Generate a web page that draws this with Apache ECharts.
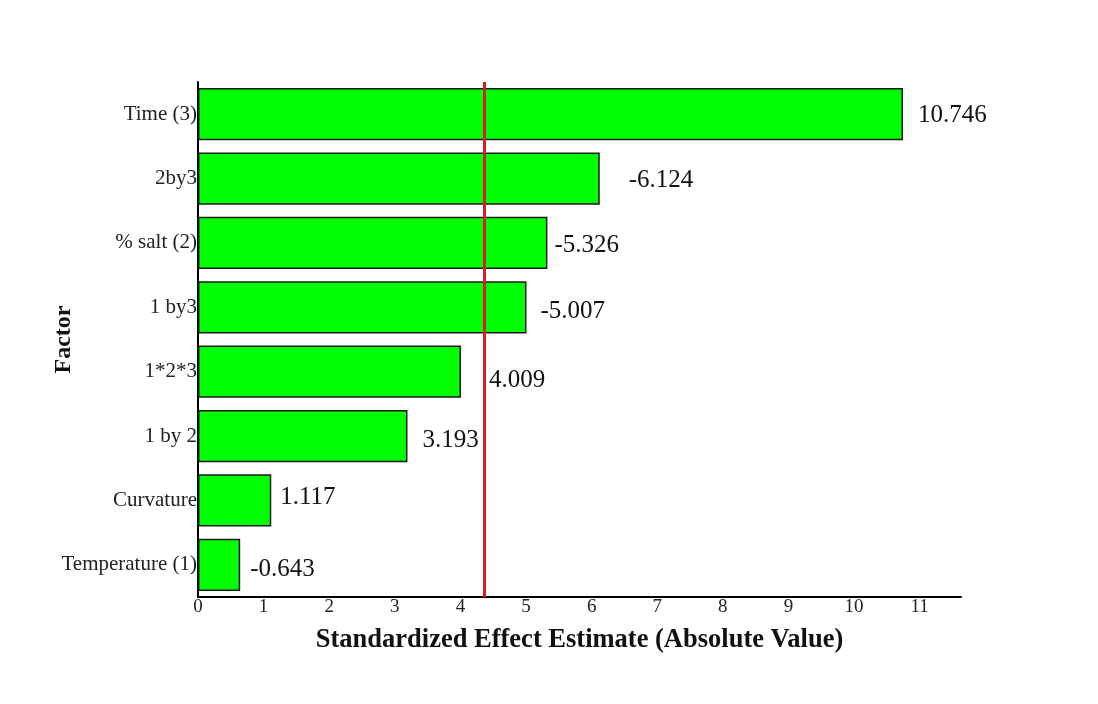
<!DOCTYPE html>
<html>
<head>
<meta charset="utf-8">
<script src="https://cdn.jsdelivr.net/npm/echarts@6/dist/echarts.min.js"></script>
<style>
  html, body { margin: 0; padding: 0; background: #ffffff; }
  #chart { width: 1098px; height: 704px; }
</style>
</head>
<body>
<div id="chart"></div>
<script>
// Pareto chart of standardized effects
const factors = ['Time (3)', '2by3', '% salt (2)', '1 by3', '1*2*3', '1 by 2', 'Curvature', 'Temperature (1)'];
const effects = [10.746, -6.124, -5.326, -5.007, 4.009, 3.193, 1.117, -0.643];
const xTicks = [0, 1, 2, 3, 4, 5, 6, 7, 8, 9, 10, 11];
const criticalValue = 4.37;

// hand-placed nudges [dx, dy] for the value labels, in pixels
const labelNudges = [[15, 1], [29, 2], [7, 2], [14, 4], [28, 9], [15, 4], [9, -3], [10, 5]];

const serif = '"Liberation Serif", "Times New Roman", serif';
const chart = echarts.init(document.getElementById('chart'), null, { renderer: 'canvas' });

chart.setOption({
  backgroundColor: '#ffffff',
  animation: false,
  grid: { left: 198, right: 137, top: 82, bottom: 107, containLabel: false },
  xAxis: {
    type: 'value',
    min: 0,
    max: 11.63,
    interval: 1,
    name: 'Standardized Effect Estimate (Absolute Value)',
    nameLocation: 'middle',
    nameGap: 30,
    nameTextStyle: { fontFamily: serif, fontSize: 26.5, fontWeight: 'bold', color: '#111' },
    axisLine: { show: true, lineStyle: { color: '#000', width: 2 } },
    axisTick: { show: false },
    splitLine: { show: false },
    axisLabel: {
      fontFamily: serif, fontSize: 19, color: '#222', margin: 1,
      formatter: v => (xTicks.indexOf(Math.round(v)) >= 0 && Math.abs(v - Math.round(v)) < 1e-6) ? String(Math.round(v)) : ''
    }
  },
  yAxis: {
    type: 'category',
    inverse: true,
    data: factors,
    name: 'Factor',
    nameLocation: 'middle',
    nameGap: 122,
    nameMoveOverlap: false,
    nameRotate: 90,
    nameTextStyle: { fontFamily: serif, fontSize: 24, fontWeight: 'bold', color: '#111' },
    axisLine: { show: true, lineStyle: { color: '#000', width: 2 } },
    axisTick: { show: false },
    axisLabel: { fontFamily: serif, fontSize: 21, color: '#222', margin: 1 }
  },
  series: [{
    type: 'bar',
    barCategoryGap: '19%',
    itemStyle: { color: '#00ff00', borderColor: '#1a1a1a', borderWidth: 1.5 },
    data: effects.map((v, i) => ({
      value: Math.abs(v),
      label: { offset: labelNudges[i] }
    })),
    label: {
      show: true,
      position: 'right',
      distance: 0,
      fontFamily: serif,
      fontSize: 25,
      color: '#111',
      formatter: p => effects[p.dataIndex].toFixed(3)
    },
    markLine: {
      silent: true,
      symbol: 'none',
      label: { show: false },
      lineStyle: { color: '#d61f1f', width: 3, type: 'solid' },
      data: [{ xAxis: criticalValue }]
    }
  }]
});
</script>
</body>
</html>
